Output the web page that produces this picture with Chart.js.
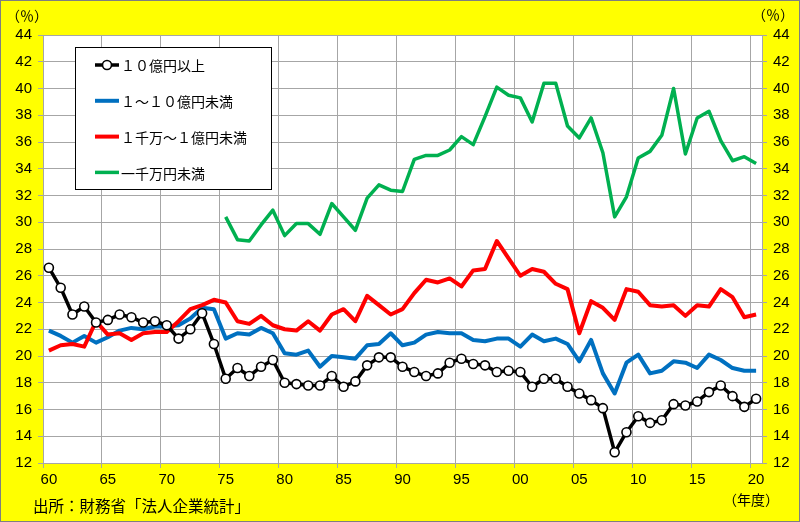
<!DOCTYPE html>
<html lang="ja">
<head>
<meta charset="utf-8">
<title>資本金規模別の推移</title>
<script src="https://cdn.jsdelivr.net/npm/chart.js@4.4.1/dist/chart.umd.min.js"></script>
<style>
    html, body { margin: 0; padding: 0; background: #ffff00; }
    #wrap { width: 800px; height: 522px; }
</style>
</head>
<body>
<div id="wrap"><canvas id="chart"></canvas></div>
<script>
// 年度（1960〜2020）
const years = [
    1960, 1961, 1962, 1963, 1964, 1965, 1966, 1967, 1968, 1969,
    1970, 1971, 1972, 1973, 1974, 1975, 1976, 1977, 1978, 1979,
    1980, 1981, 1982, 1983, 1984, 1985, 1986, 1987, 1988, 1989,
    1990, 1991, 1992, 1993, 1994, 1995, 1996, 1997, 1998, 1999,
    2000, 2001, 2002, 2003, 2004, 2005, 2006, 2007, 2008, 2009,
    2010, 2011, 2012, 2013, 2014, 2015, 2016, 2017, 2018, 2019,
    2020
];

const seriesNames = ["１０億円以上", "１～１０億円未満", "１千万～１億円未満", "一千万円未満"];

// 10億円以上
const over1b = [
    26.6, 25.1, 23.1, 23.7, 22.5, 22.7, 23.1, 22.9, 22.5, 22.6,
    22.3, 21.3, 22.0, 23.2, 20.9, 18.3, 19.1, 18.5, 19.2, 19.7,
    18.0, 17.9, 17.8, 17.8, 18.5, 17.7, 18.1, 19.3, 19.9, 19.9,
    19.2, 18.8, 18.5, 18.7, 19.5, 19.8, 19.4, 19.3, 18.8, 18.9,
    18.8, 17.7, 18.3, 18.3, 17.7, 17.2, 16.7, 16.1, 12.8, 14.3,
    15.5, 15.0, 15.2, 16.4, 16.3, 16.6, 17.3, 17.8, 17.0, 16.2,
    16.8
];

// 1～10億円未満
const from100mTo1b = [
    21.9, 21.5, 21.0, 21.5, 21.0, 21.4, 21.9, 22.1, 22.0, 22.2,
    22.2, 22.3, 22.8, 23.6, 23.5, 21.3, 21.7, 21.6, 22.1, 21.7,
    20.2, 20.1, 20.4, 19.2, 20.0, 19.9, 19.8, 20.8, 20.9, 21.7,
    20.8, 21.0, 21.6, 21.8, 21.7, 21.7, 21.2, 21.1, 21.3, 21.3,
    20.7, 21.6, 21.1, 21.3, 20.9, 19.6, 21.2, 18.7, 17.2, 19.5,
    20.1, 18.7, 18.9, 19.6, 19.5, 19.1, 20.1, 19.7, 19.1, 18.9,
    18.9
];

// 1千万～1億円未満
const from10mTo100m = [
    20.4, 20.8, 20.9, 20.7, 22.6, 21.6, 21.7, 21.2, 21.7, 21.8,
    21.8, 22.6, 23.5, 23.8, 24.2, 24.0, 22.6, 22.4, 23.0, 22.3,
    22.0, 21.9, 22.6, 21.9, 23.1, 23.5, 22.6, 24.5, 23.8, 23.1,
    23.5, 24.7, 25.7, 25.5, 25.8, 25.2, 26.4, 26.5, 28.6, 27.3,
    26.0, 26.5, 26.3, 25.4, 25.0, 21.7, 24.1, 23.6, 22.7, 25.0,
    24.8, 23.8, 23.7, 23.8, 23.0, 23.8, 23.7, 25.0, 24.4, 22.9,
    23.1
];

// 一千万円未満（1975年度から）
const under10m = [
    null, null, null, null, null, null, null, null, null, null,
    null, null, null, null, null, 30.4, 28.7, 28.6, 29.8, 30.9,
    29.0, 29.9, 29.9, 29.1, 31.4, 30.4, 29.4, 31.8, 32.8, 32.4,
    32.3, 34.7, 35.0, 35.0, 35.4, 36.4, 35.8, 37.9, 40.1, 39.5,
    39.3, 37.5, 40.4, 40.4, 37.2, 36.3, 37.8, 35.2, 30.4, 31.9,
    34.8, 35.3, 36.5, 40.0, 35.1, 37.8, 38.3, 36.1, 34.6, 34.9,
    34.4
];

const yMin = 12;
const yMax = 44;
const yStep = 2;

const numFont = { family: "'Liberation Sans', Arial, sans-serif", size: 15 };
const jpFont = "'Noto Sans CJK JP', sans-serif";
const gridColor = '#a6a6a6';

// 背景・枠
const backgroundPlugin = {
    id: 'background',
    beforeDraw(chart) {
        const { ctx, chartArea } = chart;
        ctx.save();
        ctx.fillStyle = '#ffff00';
        ctx.fillRect(0, 0, chart.width, chart.height);
        ctx.fillStyle = '#ffffff';
        ctx.fillRect(chartArea.left, chartArea.top, chartArea.right - chartArea.left, chartArea.bottom - chartArea.top);
        ctx.strokeStyle = '#7f7f7f';
        ctx.lineWidth = 1;
        ctx.strokeRect(0.5, 0.5, chart.width - 1, chart.height - 1);
        ctx.restore();
    }
};

// 凡例と注記
const overlayPlugin = {
    id: 'overlay',
    afterDraw(chart) {
        const { ctx } = chart;
        ctx.save();

        // 凡例の枠
        ctx.fillStyle = '#ffffff';
        ctx.fillRect(75, 47, 197, 143);
        ctx.strokeStyle = '#000000';
        ctx.lineWidth = 1;
        ctx.strokeRect(75.5, 47.5, 196, 142);

        chart.data.datasets.forEach((ds, i) => {
            const y = 65 + i * 35.8;
            ctx.strokeStyle = ds.borderColor;
            ctx.lineWidth = ds.borderWidth;
            ctx.beginPath();
            ctx.moveTo(95, y);
            ctx.lineTo(119, y);
            ctx.stroke();
            if (ds.pointRadius > 0) {
                ctx.beginPath();
                ctx.arc(107, y, ds.pointRadius, 0, Math.PI * 2);
                ctx.fillStyle = ds.pointBackgroundColor;
                ctx.fill();
                ctx.lineWidth = ds.pointBorderWidth;
                ctx.strokeStyle = ds.pointBorderColor;
                ctx.stroke();
            }
            ctx.fillStyle = '#000000';
            ctx.font = `14px ${jpFont}`;
            ctx.textAlign = 'left';
            ctx.textBaseline = 'middle';
            ctx.fillText(ds.label, 121, y + 1);
        });

        // 単位・出所
        ctx.fillStyle = '#000000';
        ctx.textBaseline = 'middle';
        ctx.font = `14px ${jpFont}`;
        ctx.textAlign = 'left';
        ctx.fillText('（％）', 6, 16);
        ctx.fillText('（％）', 752, 15);
        ctx.fillText('（年度）', 723, 500);
        ctx.font = `15.5px ${jpFont}`;
        ctx.fillText('出所：財務省「法人企業統計」', 33, 506);

        ctx.restore();
    }
};

const ctx = document.getElementById('chart').getContext('2d');
const myChart = new Chart(ctx, {
    type: 'line',
    data: {
        labels: years,
        datasets: [
            {
                label: seriesNames[0],
                data: over1b,
                borderColor: '#000000',
                borderWidth: 3.5,
                pointRadius: 4.5,
                pointBackgroundColor: '#ffffff',
                pointBorderColor: '#000000',
                pointBorderWidth: 1.6,
                order: 0,
            },
            {
                label: seriesNames[1],
                data: from100mTo1b,
                borderColor: '#0070c0',
                borderWidth: 4,
                pointRadius: 0,
                order: 2,
            },
            {
                label: seriesNames[2],
                data: from10mTo100m,
                borderColor: '#ff0000',
                borderWidth: 4,
                pointRadius: 0,
                order: 1,
            },
            {
                label: seriesNames[3],
                data: under10m,
                borderColor: '#00b050',
                borderWidth: 3.5,
                pointRadius: 0,
                order: 3,
            },
        ],
    },
    options: {
        responsive: true,
        maintainAspectRatio: false,
        animation: false,
        layout: { padding: { top: 35, left: 0, right: 0, bottom: 0 } },
        elements: { line: { tension: 0, borderJoinStyle: 'round' } },
        plugins: {
            legend: { display: false },
            tooltip: { enabled: false },
        },
        scales: {
            x: {
                type: 'category',
                offset: true,
                grid: {
                    offset: true,
                    tickLength: 5,
                    color: (c) => (c.index % 5 === 0 ? gridColor : 'rgba(0,0,0,0)'),
                },
                border: { color: gridColor },
                ticks: {
                    autoSkip: false,
                    maxRotation: 0,
                    padding: 3,
                    color: '#000000',
                    font: numFont,
                    callback: (v, i) => (i % 5 === 0 ? String(years[i] % 100).padStart(2, '0') : ''),
                },
                afterFit: (s) => { s.height = 59; },
            },
            y: {
                position: 'left',
                min: yMin,
                max: yMax,
                grid: { color: gridColor, tickLength: 5 },
                border: { color: gridColor },
                ticks: { stepSize: yStep, padding: 6, color: '#000000', font: numFont },
                afterFit: (s) => { s.width = 43; },
            },
            y2: {
                position: 'right',
                min: yMin,
                max: yMax,
                grid: { drawOnChartArea: false, color: gridColor, tickLength: 5 },
                border: { color: gridColor },
                ticks: { stepSize: yStep, padding: 6, color: '#000000', font: numFont },
                afterFit: (s) => { s.width = 38; },
            },
        },
    },
    plugins: [backgroundPlugin, overlayPlugin],
});
</script>
</body>
</html>
